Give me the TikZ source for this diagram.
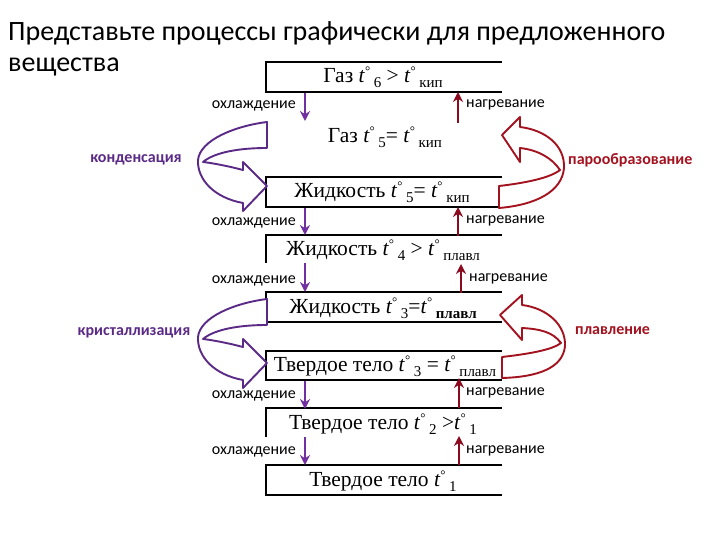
\documentclass[tikz,border=0pt]{standalone}
\usepackage{fontspec}
\setmainfont{Liberation Serif}
\newfontfamily\carl{Carlito}
\usetikzlibrary{arrows.meta}
\definecolor{pur}{HTML}{5B2A86}
\definecolor{purA}{HTML}{7030A0}
\definecolor{redd}{HTML}{A3121F}
\definecolor{redA}{HTML}{8B0A1E}
\newcommand{\tdg}[1]{\textit{t}\raisebox{0.75ex}{\fontsize{13}{13}\selectfont °}\,\raisebox{-0.5ex}{\fontsize{15}{15}\selectfont #1}}
\tikzset{
  boxline/.style={line width=1.2pt, black},
  downarr/.style={purA, line width=2.6pt, -{Stealth[length=10pt,width=10pt]}},
  uparr/.style={redA, line width=2.6pt, -{Stealth[length=10pt,width=10pt]}},
  proc/.style={font=\fontsize{21.5}{24}\selectfont, inner sep=0pt},
  lbl/.style={font=\carl\fontsize{16}{18}\selectfont, inner sep=0pt},
  plbl/.style={font=\carl\bfseries\fontsize{16}{18}\selectfont, inner sep=0pt, text=pur},
  rlbl/.style={font=\carl\bfseries\fontsize{16}{18}\selectfont, inner sep=0pt, text=redd},
  ribP/.style={draw=pur, line width=1.9pt, fill=white, line join=round},
  ribR/.style={draw=redd, line width=1.9pt, fill=white, line join=round},
  title/.style={font=\carl\fontsize{28}{30}\selectfont, inner sep=0pt, anchor=west}
}
\begin{document}
\begin{tikzpicture}[x=1pt,y=-1pt]
\useasboundingbox (0,0) rectangle (720,540);
% title
\node[title] (t1) at (8,33) {Представьте процессы графически для предложенного};
\node[title] (t2) at (8,67) {вещества};
% boxes (open on the right)
\draw[boxline] (502,62) -- (266,62) -- (266,92) -- (502,92);
\draw[boxline] (502,177) -- (266,177) -- (266,207) -- (502,207);
\draw[boxline] (502,235) -- (266,235) -- (266,263);
\draw[boxline] (502,292) -- (266,292) -- (266,322) -- (502,322);
\draw[boxline] (502,351) -- (266,351) -- (266,380) -- (502,380);
\draw[boxline] (502,408) -- (266,408) -- (266,437);
\draw[boxline] (502,465) -- (266,465) -- (266,495) -- (502,495);
% state texts
\node[proc] (s1) at (383,77) {Газ \tdg{6} > \tdg{кип}};
\node[proc] (s2) at (385,137) {Газ \tdg{5}= \tdg{кип}};
\node[proc] (s3) at (382,192) {Жидкость \tdg{5}= \tdg{кип}};
\node[proc] (s4) at (383,250) {Жидкость \tdg{4} > \tdg{плавл}};
\node[proc] (s5) at (383,308) {Жидкость \tdg{3}=\tdg{\bfseries плавл}};
\node[proc] (s6) at (385,366) {Твердое тело \tdg{3} = \tdg{плавл}};
\node[proc] (s7) at (383,424) {Твердое тело \tdg{2} >\tdg{1}};
\node[proc] (s8) at (383,481) {Твердое тело \tdg{1}};
% arrow end points
\coordinate (d1a) at (305,93);  \coordinate (d1b) at (305,121);
\coordinate (d2a) at (305,208); \coordinate (d2b) at (305,235);
\coordinate (d3a) at (305,263); \coordinate (d3b) at (305,292);
\coordinate (d4a) at (305,381); \coordinate (d4b) at (305,409);
\coordinate (d5a) at (305,437); \coordinate (d5b) at (305,465);
\coordinate (u1a) at (458,123); \coordinate (u1b) at (458,92);
\coordinate (u2a) at (458,236); \coordinate (u2b) at (458,207);
\coordinate (u3a) at (461,293); \coordinate (u3b) at (461,264);
\coordinate (u4a) at (459,408); \coordinate (u4b) at (459,378);
\coordinate (u5a) at (459,465); \coordinate (u5b) at (459,436);
\foreach \i in {1,...,5}{
  \draw[downarr] (d\i a) -- (d\i b);
  \draw[uparr] (u\i a) -- (u\i b);
}
% labels
\node[lbl, anchor=east] (c1) at (296,106) {охлаждение};
\node[lbl, anchor=east] (c2) at (296,223) {охлаждение};
\node[lbl, anchor=east] (c3) at (296,281) {охлаждение};
\node[lbl, anchor=east] (c4) at (296,396) {охлаждение};
\node[lbl, anchor=east] (c5) at (296,452) {охлаждение};
\node[lbl, anchor=west] (h1) at (466,105) {нагревание};
\node[lbl, anchor=west] (h2) at (466,221) {нагревание};
\node[lbl, anchor=west] (h3) at (469,279) {нагревание};
\node[lbl, anchor=west] (h4) at (466,393) {нагревание};
\node[lbl, anchor=west] (h5) at (466,451) {нагревание};
% purple ribbons
\foreach \dy in {0,177}{
\begin{scope}[shift={(0,\dy)}]
\draw[ribP] (267,122) .. controls (235,126) and (200,140) .. (198,160)
  .. controls (197,180) and (215,198) .. (243,203) -- (243,211) -- (267,186)
  -- (243,162) -- (243,170) .. controls (228,166) and (212,163) .. (203,162)
  .. controls (215,152) and (240,148) .. (267,148) -- cycle;
\end{scope}}
% red ribbons
\draw[ribR] (499,186) .. controls (525,183) and (550,178) .. (560,170)
  .. controls (552,158) and (538,150) .. (520,148) -- (520,162) -- (502,135)
  -- (520,117) -- (520,127) .. controls (545,130) and (565,145) .. (564,168)
  .. controls (562,192) and (535,205) .. (499,208) -- cycle;
\draw[ribR] (502,357) .. controls (528,354) and (552,350) .. (561,343)
  .. controls (553,332) and (540,329) .. (522,328) -- (522,340) -- (500,315)
  -- (522,295) -- (522,305) .. controls (547,308) and (566,325) .. (565,346)
  .. controls (563,368) and (538,377) .. (502,378) -- cycle;
% process labels
\node[plbl] (k1) at (136,160) {конденсация};
\node[plbl] (k2) at (134,333) {кристаллизация};
\node[rlbl, anchor=west] (p1) at (568,160) {парообразование};
\node[rlbl, anchor=west] (p2) at (575,331) {плавление};
\end{tikzpicture}
\end{document}
